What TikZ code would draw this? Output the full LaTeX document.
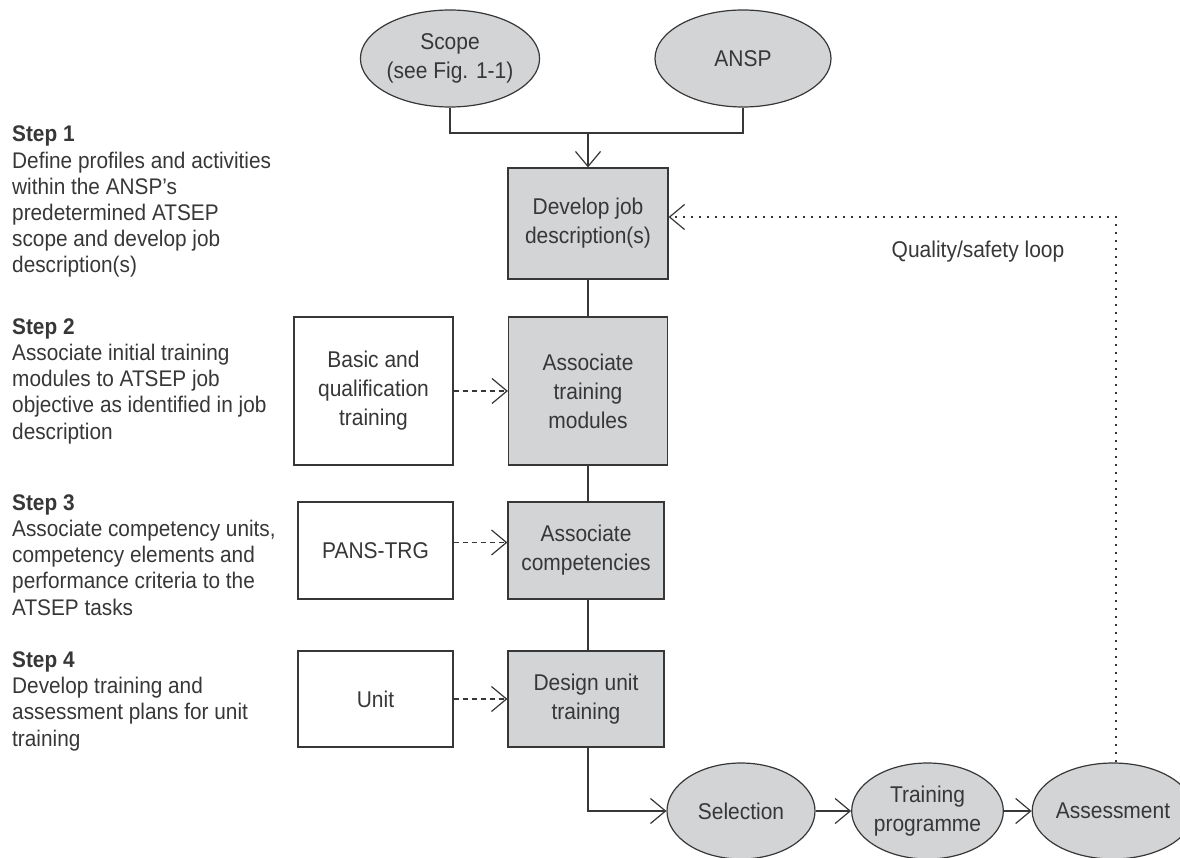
\documentclass[tikz,border=0pt]{standalone}
\usepackage{fontspec}
\setmainfont{Liberation Sans}[FakeStretch=0.92]
\usetikzlibrary{shapes.geometric,arrows.meta}
\definecolor{boxgray}{RGB}{211,212,214}
\definecolor{ink}{RGB}{55,55,55}
\begin{document}
\begin{tikzpicture}[x=1pt,y=-1pt,
  every node/.style={text=ink, font=\fontsize{22.8}{29}\selectfont},
  graybox/.style={draw=ink, fill=boxgray, line width=1.2pt, align=center, inner sep=0pt},
  whitebox/.style={draw=ink, fill=white, line width=1.2pt, align=center, inner sep=0pt},
  oval/.style={ellipse, draw=ink, fill=boxgray, line width=1.2pt, align=center, inner sep=0pt, minimum height=96pt},
  conn/.style={draw=ink, line width=1.2pt},
  arr/.style={conn, -{Straight Barb[length=15pt,width=25pt]}},
  darr/.style={arr, dash pattern=on 5pt off 4pt},
  looparr/.style={arr, dash pattern=on 2pt off 6pt},
  steptext/.style={anchor=base west, align=left, inner sep=0pt, font=\fontsize{22.6}{26.2}\selectfont}
]
\useasboundingbox (0,0) rectangle (1180,858);
% top ellipses
\node[oval, minimum width=174pt, minimum height=97pt] (scope) at (450,58.5) {Scope\\(see Fig. 1-1)};
\node[oval, minimum width=176pt, minimum height=97pt] (ansp) at (743,58.5) {ANSP};
% right column boxes
\node[graybox, minimum width=160pt, minimum height=111pt] (dev) at (588,223.5) {Develop job\\description(s)};
\node[graybox, minimum width=159pt, minimum height=148pt] (mods) at (588,391) {Associate\\training\\modules};
\node[graybox, minimum width=156pt, minimum height=97pt] (comp) at (586,550.5) {Associate\\competencies};
\node[graybox, minimum width=156pt, minimum height=96pt] (design) at (586,699) {Design unit\\training};
% left boxes
\node[whitebox, minimum width=159pt, minimum height=148pt] (basic) at (373.5,391) {Basic and\\qualification\\training};
\node[whitebox, minimum width=155pt, minimum height=97pt] (pans) at (375.5,550.5) {PANS-TRG};
\node[whitebox, minimum width=155pt, minimum height=96pt] (unit) at (375.5,699) {Unit};
% bottom ellipses
\node[oval, minimum width=148pt] (sel) at (741,811) {Selection};
\node[oval, minimum width=149pt] (prog) at (927.5,811) {Training\\programme};
\node[oval, minimum width=140pt] (assess) at (1113,811) {Assessment};
% step texts (anchored at the baseline of their last line)
\node[steptext] (s1) at (12,273) {\textbf{Step 1}\\Define profiles and activities\\within the ANSP’s\\predetermined ATSEP\\scope and develop job\\description(s)};
\node[steptext] (s2) at (12,439) {\textbf{Step 2}\\Associate initial training\\modules to ATSEP job\\objective as identified in job\\description};
\node[steptext] (s3) at (12,615) {\textbf{Step 3}\\Associate competency units,\\competency elements and\\performance criteria to the\\ATSEP tasks};
\node[steptext] (s4) at (12,746) {\textbf{Step 4}\\Develop training and\\assessment plans for unit\\training};
\node[anchor=base, inner sep=0pt] (qlabel) at (978,258) {Quality/safety loop};
% connectors
\coordinate (join) at (588,133);
\draw[conn] (scope.south) |- (join) -| (ansp.south);
\draw[arr] (join) -- (dev.north);
\draw[conn] (dev.south) -- (dev.south |- mods.north);
\draw[conn] (mods.south) -- (mods.south |- comp.north);
\draw[conn] (comp.south -| mods.south) -- (mods.south |- design.north);
\draw[darr] (basic.east) -- (mods.west);
\draw[darr] ([yshift=8pt]pans.east) -- ([yshift=8pt]comp.west);
\draw[darr] (unit.east) -- (design.west);
\draw[arr] (design.south -| mods.south) |- (sel.west);
\draw[arr] (sel.east) -- (prog.west);
\draw[arr] (prog.east) -- (assess.west);
\draw[looparr] ([xshift=3pt]assess.north) |- ([yshift=6.5pt]dev.east);
\end{tikzpicture}
\end{document}
